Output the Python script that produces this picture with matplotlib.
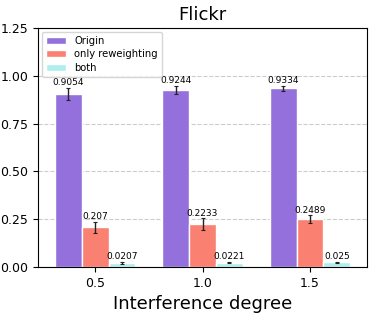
import matplotlib
matplotlib.use("Agg")
import matplotlib.pyplot as plt
import numpy as np

categories = ["0.5", "1.0", "1.5"]
origin = [0.9054, 0.9244, 0.9334]
origin_err = [0.03, 0.02, 0.015]
reweight = [0.207, 0.2233, 0.2489]
reweight_err = [0.03, 0.03, 0.02]
both = [0.0207, 0.0221, 0.025]
both_err = [0.003, 0.003, 0.003]

series = [
    ("Origin", origin, origin_err, "#9370DB"),
    ("only reweighting", reweight, reweight_err, "#FA8072"),
    ("both", both, both_err, "#AFEEEE"),
]

fig, ax = plt.subplots(figsize=(3.74, 3.14), dpi=100)
x = np.arange(len(categories))
width = 0.25

for k, (name, vals, errs, color) in enumerate(series):
    pos = x + (k - 1) * width
    ax.bar(pos, vals, width, yerr=errs, color=color, edgecolor="white",
           linewidth=1, label=name, capsize=1.5,
           error_kw=dict(elinewidth=1, ecolor="#222222", capthick=0.8))
    for p, v, e in zip(pos, vals, errs):
        ax.text(p, v + e + 0.005, f"{v:g}", ha="center", va="bottom", fontsize=6.5)

ax.set_xticks(x)
ax.set_xticklabels(categories, fontsize=9)
ax.set_ylim(0, 1.25)
ax.set_yticks(np.arange(0, 1.26, 0.25))
ax.tick_params(axis="y", labelsize=9)
ax.set_xlim(-0.53, 2.53)
ax.yaxis.grid(True, linestyle="--", color="#cccccc", linewidth=0.8)
ax.set_axisbelow(True)
ax.set_title("Flickr", fontsize=13)
ax.set_xlabel("Interference degree", fontsize=13)
ax.legend(loc="upper left", fontsize=7.2, labelspacing=0.35, borderaxespad=0.4)

plt.subplots_adjust(left=0.102, right=0.981, top=0.911, bottom=0.15)
plt.savefig("out.png", dpi=100)
